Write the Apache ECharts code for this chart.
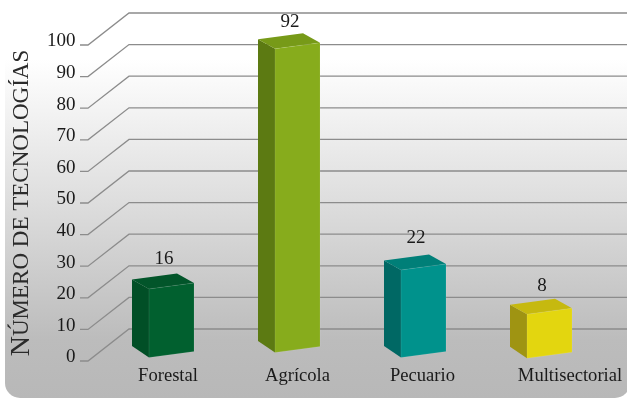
<!DOCTYPE html>
<html><head><meta charset="utf-8">
<style>html,body{margin:0;padding:0;background:#fff}#c{width:627px;height:398px}</style>
<script src="https://cdn.jsdelivr.net/npm/echarts@6/dist/echarts.min.js"></script>
</head><body><div id="c"></div>
<script>
const categories = ['Forestal','Agrícola','Pecuario','Multisectorial'];
const values = [16,92,22,8];
const yTicks = [0,10,20,30,40,50,60,70,80,90,100];
const frontColors = ['#01602f','#87ac1c','#00928c','#e3d60f'];
const sideColors = ['#014f26','#5c7a12','#006864','#9f9412'];
const topColors = ['#02552a','#779a18','#007f78','#c6b90f'];
const labelShifts = [-7,0,-2,41];

const FONT = '"Liberation Serif", serif';
const barBaseLifts = [1.1,2.7,1.1,0.9], barTopLift = 6.8;
const valueLabelGaps = [14,11,16,13];
const halfW = 22.5, tilt = 6, depthX = 17, depthY = 9.5;
const floorX = 88, wallX = 41, wallY = 32, stub = 8, rightEdge = 627;

const chart = echarts.init(document.getElementById('c'), null, {renderer:'canvas'});
chart.setOption({
  animation:false,
  backgroundColor:'#ffffff',
  graphic:[{type:'rect',z:-10,silent:true,
    shape:{x:5,y:-20,width:625,height:418,r:[0,0,15,15]},
    style:{fill:new echarts.graphic.LinearGradient(0,0,0,1,[
      {offset:0,color:'#ffffff'},{offset:0.19,color:'#ffffff'},{offset:0.526,color:'#dedede'},{offset:0.86,color:'#bcbcbc'},{offset:1,color:'#b8b8b8'}])}
  }],
  grid:{left:108.5,width:504,top:45,height:316,outerBoundsMode:'none',containLabel:false},
  xAxis:{type:'category',
    data:categories.map((c,i)=>({value:c,textStyle:{padding:labelShifts[i]>0?[0,0,0,labelShifts[i]]:[0,-labelShifts[i],0,0]}})),
    axisLine:{show:false},axisTick:{show:false},splitLine:{show:false},
    axisLabel:{show:true,interval:0,margin:6,fontFamily:FONT,fontSize:18.6,color:'#1a1a1a'}},
  yAxis:{type:'value',min:0,max:100,interval:10,
    axisLine:{show:false},axisTick:{show:false},splitLine:{show:false},
    axisLabel:{margin:33,fontFamily:FONT,fontSize:19,color:'#1a1a1a',verticalAlign:'bottom',lineHeight:7},
    name:'{a|N}{b|ÚMERO DE TECNOLOGÍAS}',nameLocation:'middle',nameRotate:90,nameGap:71,
    nameTextStyle:{color:'#2b2b2b',fontFamily:FONT,rich:{
      a:{fontSize:28,fontFamily:FONT,color:'#2b2b2b'},
      b:{fontSize:23,fontFamily:FONT,color:'#2b2b2b'}}}},
  series:[
    {type:'custom',silent:true,coordinateSystem:'cartesian2d',z:1,
     data:yTicks.map(t=>[0,t]),
     encode:{x:0,y:1},
     renderItem(params,api){
       const y=api.coord([0,api.value(1)])[1];
       return {type:'polyline',shape:{points:[[floorX-stub,y],[floorX,y],[floorX+wallX,y-wallY],[rightEdge,y-wallY]]},
         style:{fill:null,stroke:'#8c8c8c',lineWidth:1.3}};
     }},
    {type:'custom',silent:true,coordinateSystem:'cartesian2d',z:3,
     data:values.map((v,i)=>[i,v]),
     encode:{x:0,y:1},
     renderItem(params,api){
       const i=api.value(0), v=api.value(1);
       const cx=api.coord([i,0])[0];
       const t=api.coord([i,v+barTopLift])[1];
       const b=api.coord([i,barBaseLifts[i]])[1];
       const xl=cx-halfW,xr=cx+halfW;
       return {type:'group',children:[
         {type:'polygon',shape:{points:[[xl,t],[xl-depthX,t-depthY],[xl-depthX,b-depthY-2],[xl,b]]},style:{fill:sideColors[i]}},
         {type:'polygon',shape:{points:[[xl,t],[xr,t-tilt],[xr-depthX,t-tilt-depthY],[xl-depthX,t-depthY]]},style:{fill:topColors[i]}},
         {type:'polygon',shape:{points:[[xl,t],[xr,t-tilt],[xr,b-tilt],[xl,b]]},style:{fill:frontColors[i],stroke:'rgba(255,255,255,0.12)',lineWidth:0.8}},
         {type:'text',style:{text:String(v),x:xr-depthX-13,y:t-tilt-depthY-valueLabelGaps[i],align:'center',verticalAlign:'middle',
           font:'19px '+FONT,fill:'#1a1a1a'}}
       ]};
     }}
  ]
});
</script></body></html>
